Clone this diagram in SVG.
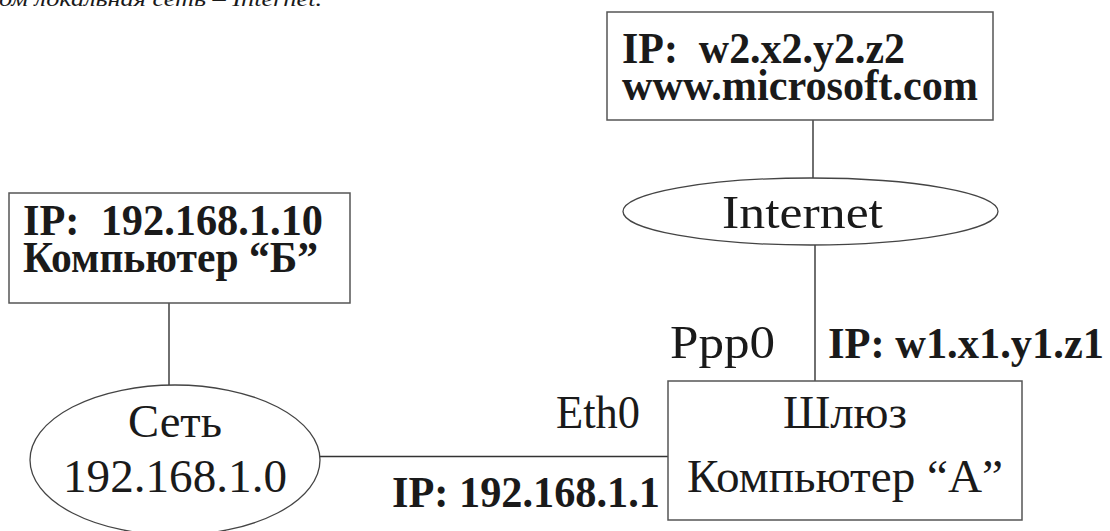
<svg xmlns="http://www.w3.org/2000/svg" width="1110" height="531" viewBox="0 0 1110 531" xml:space="preserve">
  <style>
    text { font-family: "Liberation Serif", "Times New Roman", serif; fill: #1a1a1a; white-space: pre; }
    .reg { font-size: 47px; }
    .bold { font-size: 45px; font-weight: bold; }
    .cap { font-size: 22px; font-style: italic; }
    .box { fill: #ffffff; stroke: #555555; stroke-width: 1.5; }
    .oval { fill: #ffffff; stroke: #444444; stroke-width: 1.3; }
    .wire { stroke: #333333; stroke-width: 1.4; fill: none; }
  </style>

  <rect width="1110" height="531" fill="#ffffff"/>

  <!-- caption line running off the top edge -->
  <text class="cap" x="-1" y="6" textLength="323" lengthAdjust="spacingAndGlyphs">ом локальная сеть – Internet.</text>

  <!-- connectors -->
  <g id="connectors">
    <line class="wire" x1="813" y1="120" x2="813" y2="178"/>
    <line class="wire" x1="815" y1="245" x2="815" y2="382"/>
    <line class="wire" x1="169" y1="303" x2="169" y2="385"/>
    <line class="wire" x1="320" y1="456.5" x2="668" y2="456.5"/>
  </g>

  <!-- web server -->
  <g id="node-server">
    <rect class="box" x="607" y="12" width="386" height="108"/>
    <text class="bold" x="622" y="63" textLength="283" lengthAdjust="spacingAndGlyphs">IP:  w2.x2.y2.z2</text>
    <text class="bold" x="622" y="100" textLength="356" lengthAdjust="spacingAndGlyphs">www.microsoft.com</text>
  </g>

  <!-- Internet cloud -->
  <g id="node-internet">
    <ellipse class="oval" cx="810.5" cy="211.5" rx="187.5" ry="33.5"/>
    <text class="reg" x="722" y="228" textLength="161" lengthAdjust="spacingAndGlyphs">Internet</text>
  </g>

  <!-- computer B -->
  <g id="node-computer-b">
    <rect class="box" x="9" y="193" width="341" height="110"/>
    <text class="bold" x="23" y="235" textLength="300" lengthAdjust="spacingAndGlyphs">IP:  192.168.1.10</text>
    <text class="bold" x="23" y="272" textLength="295" lengthAdjust="spacingAndGlyphs">Компьютер “Б”</text>
  </g>

  <!-- local network -->
  <g id="node-lan">
    <ellipse class="oval" cx="175" cy="460" rx="145" ry="75"/>
    <text class="reg" x="128" y="437" textLength="94" lengthAdjust="spacingAndGlyphs">Сеть</text>
    <text class="reg" x="63" y="492" textLength="224" lengthAdjust="spacingAndGlyphs">192.168.1.0</text>
  </g>

  <!-- gateway A -->
  <g id="node-gateway">
    <rect class="box" x="668" y="381" width="354" height="139"/>
    <text class="reg" x="783" y="428" textLength="124" lengthAdjust="spacingAndGlyphs">Шлюз</text>
    <text class="reg" x="687" y="492" textLength="316" lengthAdjust="spacingAndGlyphs">Компьютер “A”</text>
  </g>

  <!-- interface names and addresses of the gateway -->
  <g id="iface-labels">
    <text class="reg" x="670" y="358" textLength="105" lengthAdjust="spacingAndGlyphs">Ppp0</text>
    <text class="bold" x="828" y="358" textLength="276" lengthAdjust="spacingAndGlyphs">IP: w1.x1.y1.z1</text>
    <text class="reg" x="556" y="428" textLength="84" lengthAdjust="spacingAndGlyphs">Eth0</text>
    <text class="bold" x="392" y="507" textLength="268" lengthAdjust="spacingAndGlyphs">IP: 192.168.1.1</text>
  </g>
</svg>
